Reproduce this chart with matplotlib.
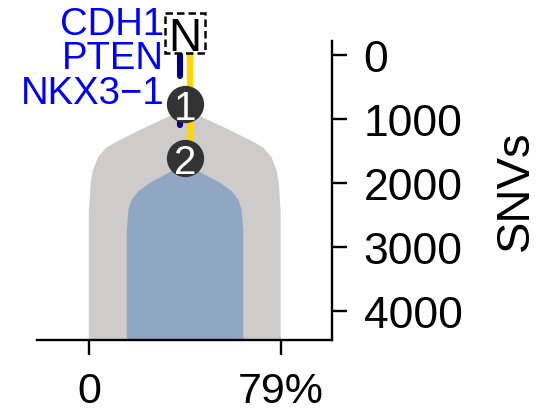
import matplotlib
matplotlib.use('Agg')
import matplotlib.pyplot as plt
from matplotlib.patches import Polygon, Rectangle
import numpy as np

plt.rcParams['font.family'] = ['Liberation Sans', 'DejaVu Sans']

# ---- data ----
clone_centers = [39.5, 39.6]          # % (x centre of each clone shape)
gray_depth = [846, 970, 1163, 1346, 1449, 1606, 1815, 2023, 2285, 2450, 4450]
gray_halfwidth = [0, 7.0, 17.9, 27.6, 32.4, 35.8, 37.9, 38.8, 39.2, 39.5, 39.5]
blue_depth = [1704, 1869, 1997, 2128, 2258, 2415, 2623, 2750, 4450]
blue_halfwidth = [0, 8.1, 14.4, 19.2, 21.9, 23.3, 23.7, 24.0, 24.0]
node_x = 39.6
node_snvs = [772, 1617]
node_labels = ['1', '2']
normal_snv = -340
normal_label = 'N'
yellow_x = 41.6
yellow_span = [-60, 1617]
navy_x = 37.6
navy_segments = [(-60, 334), (772, 1100)]
driver_genes = ['CDH1', 'PTEN', 'NKX3\u22121']
driver_snvs = [-324, 208, 756]
driver_x = 31.0
xtick_vals = [0, 79]
xtick_labels = ['0', '79%']
ytick_vals = [0, 1000, 2000, 3000, 4000]
ytick_labels = ['0', '1000', '2000', '3000', '4000']

gray_col = '#cdcccb'
blue_col = '#8fa7c2'

fig = plt.figure(figsize=(5.53, 4.14), dpi=100)
ax = fig.add_axes([0.0675, 0.1763, 0.5323, 0.7215])
ax.set_xlim(-21.2, 100)
ax.set_ylim(4450, -210)

def shape(center, depth, hw, color, z):
    d = np.array(depth, float)
    h = np.array(hw, float)
    xs = np.concatenate([center - h, (center + h)[::-1]])
    ys = np.concatenate([d, d[::-1]])
    ax.add_patch(Polygon(np.column_stack([xs, ys]), closed=True,
                         facecolor=color, edgecolor='none', zorder=z))

shape(clone_centers[0], gray_depth, gray_halfwidth, gray_col, 1)
shape(clone_centers[1], blue_depth, blue_halfwidth, blue_col, 2)

ax.plot([yellow_x, yellow_x], yellow_span, color='#ffd700', lw=4.6,
        solid_capstyle='butt', zorder=3, clip_on=False)
for a, b in navy_segments:
    ax.plot([navy_x, navy_x], [a, b], color='#000080', lw=4.4,
            solid_capstyle='round', zorder=3, clip_on=False)

ax.scatter([node_x] * len(node_snvs), node_snvs, s=720, color='#333333',
           zorder=4, clip_on=False, linewidths=0)
for v, lab in zip(node_snvs, node_labels):
    ax.text(node_x, v, lab, color='white', fontsize=29, ha='center',
            va='center_baseline', zorder=5)

# Normal box
bw, bh = 40 / 2.43, 40 / 63.9 * 1000
ax.add_patch(Rectangle((node_x - bw / 2, normal_snv - bh / 2), bw, bh,
                       facecolor='white', edgecolor='black', lw=1.8,
                       linestyle=(0, (3, 1.6)), zorder=5, clip_on=False))
ax.text(node_x, normal_snv, normal_label, color='black', fontsize=33,
        ha='center', va='center_baseline', zorder=6, clip_on=False)

for g, v in zip(driver_genes, driver_snvs):
    ax.text(driver_x, v, g, color='#0000ff', fontsize=27.5, ha='right',
            va='baseline', zorder=6, clip_on=False)

for s in ['left', 'top']:
    ax.spines[s].set_visible(False)
for s in ['bottom', 'right']:
    ax.spines[s].set_linewidth(1.7)
ax.yaxis.tick_right()
ax.yaxis.set_label_position('right')
ax.set_xticks(xtick_vals, xtick_labels)
ax.set_yticks(ytick_vals, ytick_labels)
ax.tick_params(axis='both', length=11, width=1.7)
ax.tick_params(axis='x', pad=11, labelsize=31)
ax.tick_params(axis='y', pad=12, labelsize=32)
ax.set_ylabel('SNVs', fontsize=34, rotation=90)
ax.yaxis.set_label_coords(1.55, 0.502)

fig.savefig('out.png', dpi=100)
